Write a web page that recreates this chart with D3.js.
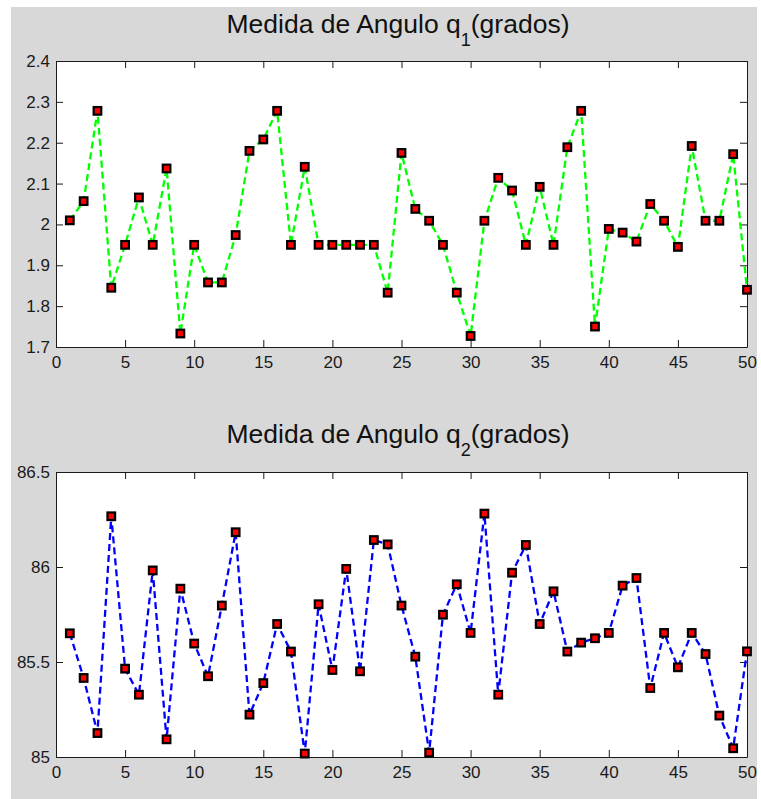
<!DOCTYPE html>
<html>
<head>
<meta charset="utf-8">
<script src="https://cdn.jsdelivr.net/npm/d3@7"></script>
<style>
  html, body { margin: 0; padding: 0; background: #fff; }
  svg { display: block; font-family: "Liberation Sans", Arial, sans-serif; }
</style>
</head>
<body>
<div id="chart"></div>
<script>
// sample index 1..50
const samples = d3.range(1, 51);

// q1 angle (grados)
const q1 = [
  2.010, 2.057, 2.278, 1.845, 1.950, 2.066, 1.950, 2.137, 1.733, 1.950,
  1.858, 1.858, 1.974, 2.180, 2.208, 2.278, 1.950, 2.141, 1.950, 1.950,
  1.950, 1.950, 1.950, 1.833, 2.175, 2.038, 2.009, 1.950, 1.833, 1.727,
  2.009, 2.114, 2.083, 1.950, 2.092, 1.950, 2.189, 2.278, 1.750, 1.989,
  1.980, 1.958, 2.050, 2.009, 1.945, 2.192, 2.009, 2.009, 2.172, 1.840
];

// q2 angle (grados)
const q2 = [
  85.651, 85.416, 85.126, 86.267, 85.465, 85.328, 85.982, 85.093, 85.886, 85.597,
  85.425, 85.797, 86.183, 85.223, 85.389, 85.700, 85.555, 85.018, 85.804, 85.458,
  85.990, 85.451, 86.142, 86.119, 85.797, 85.528, 85.023, 85.749, 85.909, 85.653,
  86.281, 85.328, 85.970, 86.116, 85.700, 85.872, 85.555, 85.602, 85.625, 85.653,
  85.902, 85.942, 85.363, 85.653, 85.472, 85.653, 85.542, 85.218, 85.046, 85.556
];

const xTicks = [0, 5, 10, 15, 20, 25, 30, 35, 40, 45, 50];
const yTicks1 = [1.7, 1.8, 1.9, 2.0, 2.1, 2.2, 2.3, 2.4];
const yTicks2 = [85, 85.5, 86, 86.5];

const W = 761, H = 799;

const svg = d3.select('#chart').append('svg')
    .attr('width', W)
    .attr('height', H);

// figure background
svg.append('rect')
    .attr('x', 11).attr('y', 7)
    .attr('width', 746).attr('height', H - 7)
    .attr('fill', '#d8d8d8');

function panel({top, bottom, values, yDomain, yTicks, color, sub, titleY}) {
  const left = 56, right = 747;
  const x = d3.scaleLinear().domain([0, 50]).range([left, right]);
  const y = d3.scaleLinear().domain(yDomain).range([bottom, top]);

  const g = svg.append('g');

  g.append('rect')
      .attr('x', left).attr('y', top)
      .attr('width', right - left).attr('height', bottom - top)
      .attr('fill', '#fff');

  const fmt = d => String(+d.toFixed(2));

  // axes, ticks pointing inward like matlab
  const styleAxis = a => {
    a.select('.domain').attr('stroke', '#1a1a1a');
    a.selectAll('.tick line').attr('stroke', '#1a1a1a');
    a.selectAll('.tick text')
        .attr('fill', '#1a1a1a')
        .style('font-size', '17px')
        .style('font-family', '"Liberation Sans", Arial, sans-serif');
  };

  g.append('g')
      .attr('transform', `translate(0,${bottom})`)
      .call(d3.axisBottom(x).tickValues(xTicks).tickFormat(fmt).tickSizeInner(-7).tickSizeOuter(0).tickPadding(9))
      .call(styleAxis);
  g.append('g')
      .attr('transform', `translate(0,${top})`)
      .call(d3.axisTop(x).tickValues(xTicks).tickFormat('').tickSizeInner(-7).tickSizeOuter(0))
      .call(styleAxis);
  g.append('g')
      .attr('transform', `translate(${left},0)`)
      .call(d3.axisLeft(y).tickValues(yTicks).tickFormat(fmt).tickSizeInner(-7).tickSizeOuter(0).tickPadding(6))
      .call(styleAxis);
  g.append('g')
      .attr('transform', `translate(${right},0)`)
      .call(d3.axisRight(y).tickValues(yTicks).tickFormat('').tickSizeInner(-7).tickSizeOuter(0))
      .call(styleAxis);

  const line = d3.line()
      .x((d, i) => x(samples[i]))
      .y(d => y(d));

  g.append('path')
      .datum(values)
      .attr('fill', 'none')
      .attr('stroke', color)
      .attr('stroke-width', 2.3)
      .attr('stroke-dasharray', '7,4')
      .attr('d', line);

  g.append('g')
    .selectAll('rect')
    .data(values)
    .join('rect')
      .attr('x', (d, i) => x(samples[i]) - 3.8)
      .attr('y', d => y(d) - 3.8)
      .attr('width', 7.6)
      .attr('height', 7.6)
      .attr('fill', '#ff0000')
      .attr('stroke', '#000')
      .attr('stroke-width', 2.2);

  const t = g.append('text')
      .attr('x', 398)
      .attr('y', titleY)
      .attr('text-anchor', 'middle')
      .attr('fill', '#111')
      .style('font-size', '26.5px');
  t.append('tspan').text('Medida de Angulo q');
  t.append('tspan').attr('dy', 13).style('font-size', '18px').text(sub);
  t.append('tspan').attr('dy', -13).text('(grados)');
}

panel({top: 61, bottom: 347, values: q1, yDomain: [1.7, 2.4], yTicks: yTicks1,
       color: '#00ff00', sub: '1', titleY: 33});
panel({top: 472, bottom: 757, values: q2, yDomain: [85, 86.5], yTicks: yTicks2,
       color: '#0000ff', sub: '2', titleY: 443});
</script>
</body>
</html>
